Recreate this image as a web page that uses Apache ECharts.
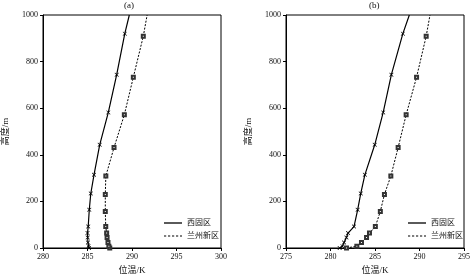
<!DOCTYPE html>
<html><head><meta charset="utf-8">
<script src="https://cdn.jsdelivr.net/npm/echarts@6/dist/echarts.min.js"></script>
<style>html,body{margin:0;padding:0;background:#fff}#c{width:474px;height:280px}</style>
</head><body><div id="c"></div>
<script>
// Panel (a)
const heightsSolid = [0, 8, 24, 45, 64, 92, 164, 234, 314, 443, 582, 744, 920, 1000];
const heightsDash  = [0, 8, 24, 45, 64, 92, 157, 230, 309, 431, 572, 733, 909, 1000];
const xiguA   = [285.17, 285.12, 285.05, 285.02, 285.0, 285.08, 285.2, 285.37, 285.73, 286.37, 287.34, 288.28, 289.19, 289.7];
const lanzhouA = [287.5, 287.4, 287.3, 287.2, 287.15, 287.05, 287.0, 287.0, 287.06, 287.98, 289.14, 290.15, 291.27, 291.7];
// Panel (b)
const xiguB   = [281.03, 281.34, 281.52, 281.79, 281.97, 282.64, 283.05, 283.4, 283.86, 284.97, 285.92, 286.84, 288.13, 288.86];
const lanzhouB = [281.8, 282.96, 283.48, 284.05, 284.38, 285.04, 285.6, 286.06, 286.78, 287.6, 288.5, 289.67, 290.75, 291.18];
const panelTitles = ['(a)', '(b)'];
const seriesNames = ['西固区', '兰州新区'];
const xTicksA = [280, 285, 290, 295, 300];
const xTicksB = [275, 280, 285, 290, 295];
const yName = '高度/m', xName = '位温/K';

const FONT = '"Liberation Serif","Noto Sans CJK SC",serif';
const crossPath = 'path://M0,0L1.2,0L5,3.8L8.8,0L10,0L10,1.2L6.2,5L10,8.8L10,10L8.8,10L5,6.2L1.2,10L0,10L0,8.8L3.8,5L0,1.2Z';
const dashIcon = 'path://M0,0h2.2v1h-2.2zM4,0h2.2v1h-2.2zM8,0h2.2v1h-2.2zM12,0h2.2v1h-2.2zM16,0h2v1h-2z';
const solidIcon = 'path://M0,0h18v1.3h-18z';

function pts(xs, hs) {
  return xs.map((t, i) => {
    const d = {value: [t, hs[i]]};
    if (i === xs.length - 1) d.symbol = 'none';
    return d;
  });
}
function xAxis(gi, ticks) {
  return {
    type: 'value', gridIndex: gi, min: ticks[0], max: ticks[ticks.length - 1], interval: 5,
    name: xName, nameLocation: 'middle', nameGap: 18,
    nameTextStyle: {fontFamily: FONT, fontSize: 9, color: '#111'},
    axisLine: {lineStyle: {color: '#000', width: 1}},
    axisTick: {show: true, inside: false, length: 3, lineStyle: {color: '#000'}},
    axisLabel: {fontFamily: FONT, fontSize: 8, color: '#111', margin: 5},
    splitLine: {show: false}
  };
}
function yAxis(gi) {
  return {
    type: 'value', gridIndex: gi, min: 0, max: 1000, interval: 200,
    name: yName, nameLocation: 'middle', nameGap: 33, nameRotate: 90,
    nameTextStyle: {fontFamily: FONT, fontSize: 9, color: '#111'},
    axisLine: {lineStyle: {color: '#000', width: 1}},
    axisTick: {show: true, inside: false, length: 3, lineStyle: {color: '#000'}},
    axisLabel: {fontFamily: FONT, fontSize: 8, color: '#111', margin: 5, formatter: v => String(v)},
    splitLine: {show: false}
  };
}
function solidSeries(gi, xs) {
  return {
    name: seriesNames[0], type: 'line', xAxisIndex: gi, yAxisIndex: gi,
    data: pts(xs, heightsSolid), symbol: crossPath, symbolSize: 4,
    itemStyle: {color: '#000', borderWidth: 0}, lineStyle: {color: '#000', width: 1.2},
    animation: false, z: 3
  };
}
function dashSeries(gi, xs) {
  return {
    name: seriesNames[1], type: 'line', xAxisIndex: gi, yAxisIndex: gi,
    data: pts(xs, heightsDash), symbol: 'emptyRect', symbolSize: 3,
    itemStyle: {color: '#333', borderColor: '#333', borderWidth: 0.6},
    lineStyle: {color: '#000', width: 1, type: [2, 1.5]},
    animation: false, z: 3
  };
}
function legend(left) {
  return {
    left: left, top: 214, orient: 'vertical', itemWidth: 18, itemHeight: 2, itemGap: 5,
    textStyle: {fontFamily: FONT, fontSize: 8, color: '#111'},
    itemStyle: {color: '#000', borderWidth: 0},
    lineStyle: {width: 0},
    selectedMode: false,
    data: [{name: seriesNames[0], icon: solidIcon}, {name: seriesNames[1], icon: dashIcon}]
  };
}

const chart = echarts.init(document.getElementById('c'), null, {renderer: 'canvas'});
chart.setOption({
  backgroundColor: '#fff',
  animation: false,
  grid: [
    {left: 43, right: 253, top: 15, bottom: 28, show: true, borderColor: '#000', borderWidth: 1},
    {left: 286, right: 10, top: 15, bottom: 28, show: true, borderColor: '#000', borderWidth: 1}
  ],
  xAxis: [xAxis(0, xTicksA), xAxis(1, xTicksB)],
  yAxis: [yAxis(0), yAxis(1)],
  legend: [legend(159), legend(403)],
  graphic: [
    {type: 'text', left: 124, top: 1, style: {text: panelTitles[0], font: '9px ' + FONT, fill: '#111'}},
    {type: 'text', left: 369, top: 1, style: {text: panelTitles[1], font: '9px ' + FONT, fill: '#111'}}
  ],
  series: [
    solidSeries(0, xiguA), dashSeries(0, lanzhouA),
    solidSeries(1, xiguB), dashSeries(1, lanzhouB)
  ]
});
</script></body></html>
